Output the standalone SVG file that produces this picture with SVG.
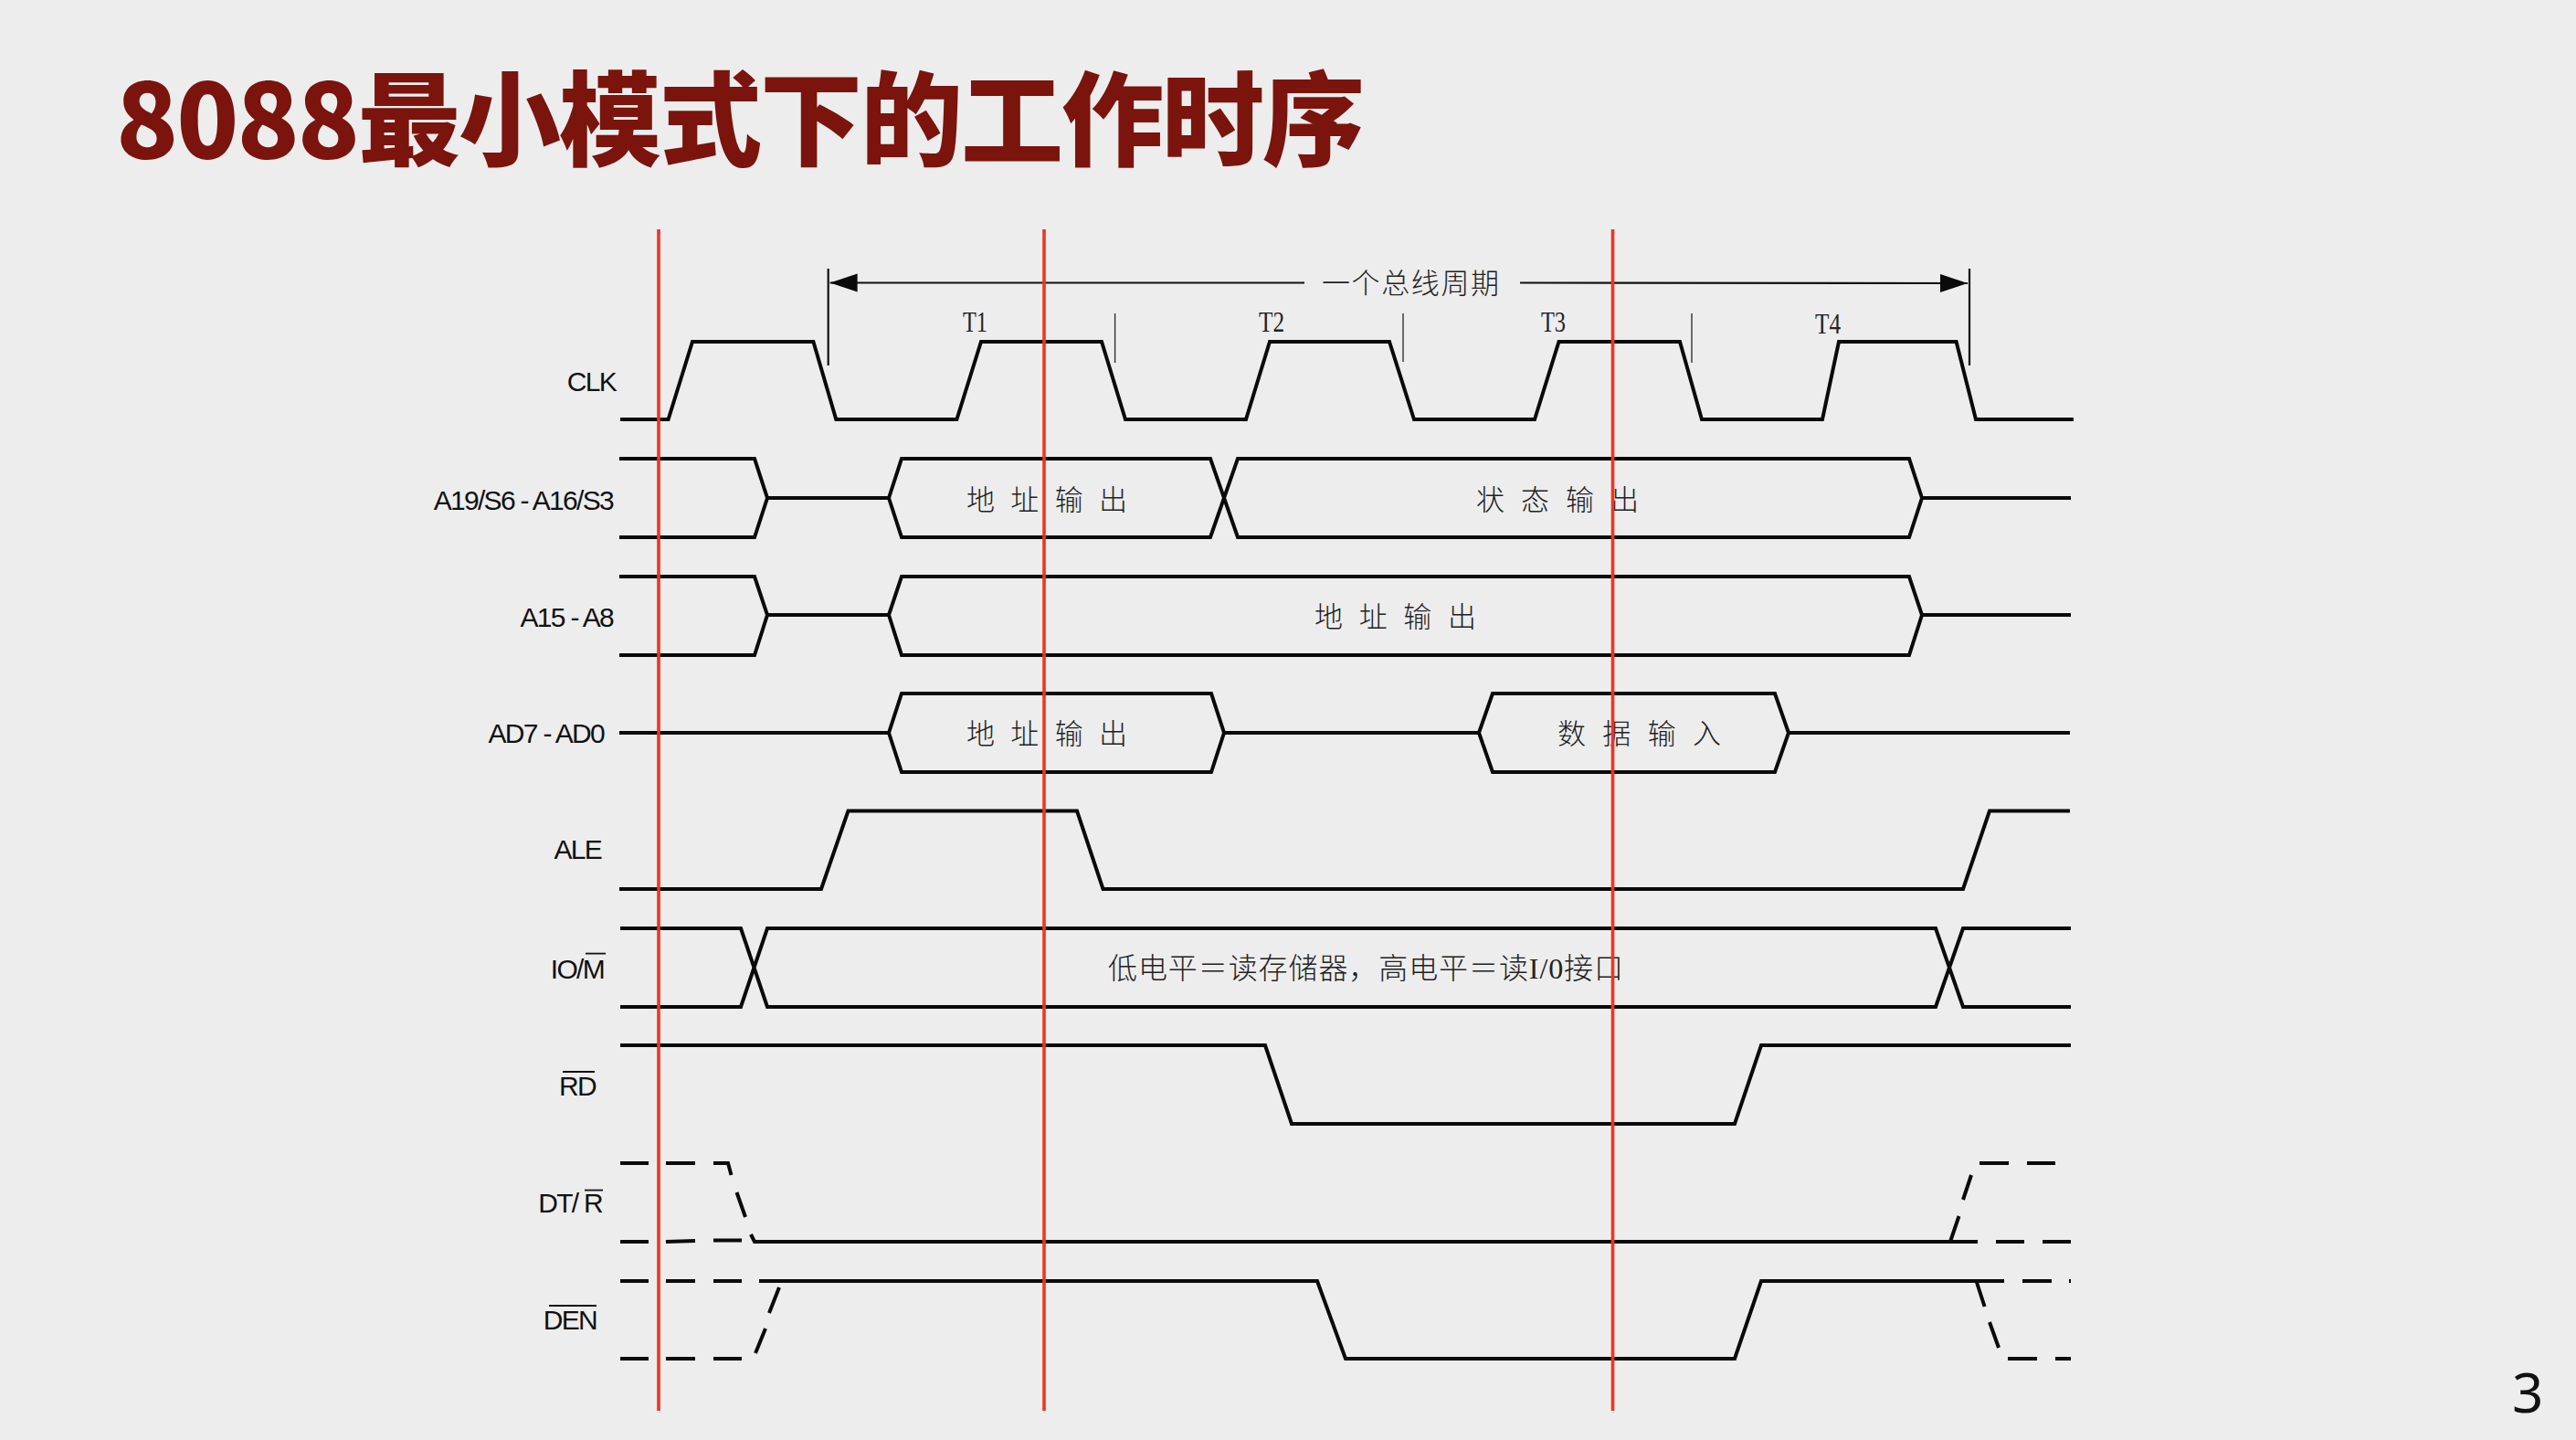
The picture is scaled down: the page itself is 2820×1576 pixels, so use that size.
<svg xmlns="http://www.w3.org/2000/svg" width="2820" height="1576" viewBox="0 0 2820 1576">
<style>
.w{fill:none;stroke:#0a0a0a;stroke-width:4;stroke-linejoin:miter}
.thin{fill:none;stroke:#333;stroke-width:1.4}
.vt{fill:none;stroke:#111;stroke-width:2.2}
.red{fill:none;stroke:#ee3524;stroke-width:3.6}
.lb{font-family:"Liberation Sans",Arial,sans-serif;font-size:30px;letter-spacing:-1.7px;fill:#111;text-anchor:end}
.ob{fill:none;stroke:#111;stroke-width:1.8}
.cn{font-family:"Liberation Serif","Noto Sans CJK SC",serif;font-size:31px;fill:#222;font-weight:300}
.t{font-family:"Liberation Serif","Noto Sans CJK SC",serif;font-size:31px;fill:#222}
.title{font-family:"Noto Sans CJK SC","Noto Sans",sans-serif;font-size:112px;font-weight:900;fill:#7a140c}
</style>
<defs>
<marker id="ah" markerUnits="userSpaceOnUse" markerWidth="32" markerHeight="22" refX="30" refY="10" orient="auto-start-reverse" viewBox="0 0 32 20"><path d="M0 0L30 10L0 20Z" fill="#0a0a0a"/></marker>
</defs>
<rect width="2820" height="1576" fill="#ededed"/>
<text id="title" class="title" x="127" y="173" textLength="1367" lengthAdjust="spacing">8088最小模式下的工作时序</text>
<text id="page" x="2750" y="1546" font-family="'Noto Sans',sans-serif" font-size="60" fill="#111">3</text>

<g id="connectors">
<path id="period-arrow-l" class="vt" d="M1428 309.500H908.600" marker-end="url(#ah)"/>
<path id="period-arrow-r" class="vt" d="M1664 309.500L2154 310" marker-end="url(#ah)"/>
<path class="vt" d="M906.700 294V400M2156 294V400"/>
<path class="thin" d="M1220.600 343V397M1536 343V396M1852 343V397"/>
</g>

<g id="clk">
<text class="lb" x="674" y="428">CLK</text>
<path class="w" d="M679 459H731.600L758 374H890.400L915.300 459H1047.400L1074 374H1206L1232 459H1364L1390 374H1521L1548 459H1680L1706.500 374H1839L1863 459H1995L2013 374H2141.600L2163 459H2270"/>
<text class="t" x="1054" y="363" textLength="27" lengthAdjust="spacingAndGlyphs">T1</text>
<text class="t" x="1378" y="363" textLength="28" lengthAdjust="spacingAndGlyphs">T2</text>
<text class="t" x="1687" y="363" textLength="27" lengthAdjust="spacingAndGlyphs">T3</text>
<text class="t" x="1987" y="365" textLength="28" lengthAdjust="spacingAndGlyphs">T4</text>
<text class="cn" x="1447" y="321" textLength="194">一个总线周期</text>
</g>

<g id="a19-a16">
<text class="lb" x="671" y="558">A19/S6 - A16/S3</text>
<path class="w" d="M678 502H826L840 545L826 588H678M840 545H973M973 545L987 502H1325L1355 588H2090L2104 545L2090 502H1355L1325 588H987L973 545M2104 545H2267"/>
<text class="cn" x="1058" y="558" textLength="176">地 址 输 出</text>
<text class="cn" x="1616" y="558" textLength="178">状 态 输 出</text>
</g>

<g id="a15-a8">
<text class="lb" x="671" y="686">A15 - A8</text>
<path class="w" d="M678 631H826L840 673L826 717H678M840 673H973L987 631H2090L2104 673L2090 717H987L973 673M2104 673H2267"/>
<text class="cn" x="1439" y="686" textLength="177">地 址 输 出</text>
</g>

<g id="ad7-ad0">
<text class="lb" x="661" y="813">AD7 - AD0</text>
<path class="w" d="M678 802H973L987 759H1326L1340 802L1326 845H987L973 802M1340 802H1619L1634 759H1943L1958 802L1943 845H1634L1619 802M1958 802H2266"/>
<text class="cn" x="1058" y="814" textLength="176">地 址 输 出</text>
<text class="cn" x="1705" y="814" textLength="179">数 据 输 入</text>
</g>

<g id="ale">
<text class="lb" x="658" y="940">ALE</text>
<path class="w" d="M678 973H899L928.500 887.500H1179L1207.500 973H2149L2178 887.500H2266"/>
</g>

<g id="io-m">
<text class="lb" x="661" y="1071">IO/M</text>
<path class="ob" d="M641 1043.600H663"/>
<path class="w" d="M679 1016H811L840 1102H2119L2149 1016H2267M679 1102H811L840 1016H2119L2149 1102H2267"/>
<text class="cn" x="1213" y="1071" textLength="564" style="font-size:32px">低电平＝读存储器，高电平＝读I/0接口</text>
</g>

<g id="rd">
<text class="lb" x="652" y="1199">RD</text>
<path class="ob" d="M616 1173H651"/>
<path class="w" d="M679 1144H1385L1414 1230H1899L1928 1144H2267"/>
</g>

<g id="dt-r">
<text class="lb" x="659" y="1327">DT/ R</text>
<path class="ob" d="M640 1302.600H660"/>
<path class="w" d="M679 1273H710M729 1273H761M781 1273H797L800.500 1286M806.500 1305L816 1332M822 1351L826 1359H2135L2144.500 1331M2149 1313L2158 1286M2167 1273H2199M2219 1273H2250"/>
<path class="w" d="M679 1359H710M729 1359L761 1358M781 1357.500H812M2135 1359H2165M2185 1359H2216M2236 1359H2267"/>
</g>

<g id="den">
<text class="lb" x="653" y="1455">DEN</text>
<path class="ob" d="M601 1429H653"/>
<path class="w" d="M679 1402H710M729 1402H761M781 1402H812M831 1402H1442L1473 1487H1899L1928 1402H2194M2214 1402H2246M2265 1402H2267"/>
<path class="w" d="M679 1487H710M729 1487H761M781 1487H812M827 1481L838 1454M842 1437L853 1409"/>
<path class="w" d="M2163.500 1402L2172.600 1430M2178 1447L2188 1475M2198 1487H2230M2250 1487H2267"/>
</g>

<g id="markers">
<path class="red" d="M721 251V1544M1143 251V1544M1765.500 251V1544"/>
</g>
</svg>
